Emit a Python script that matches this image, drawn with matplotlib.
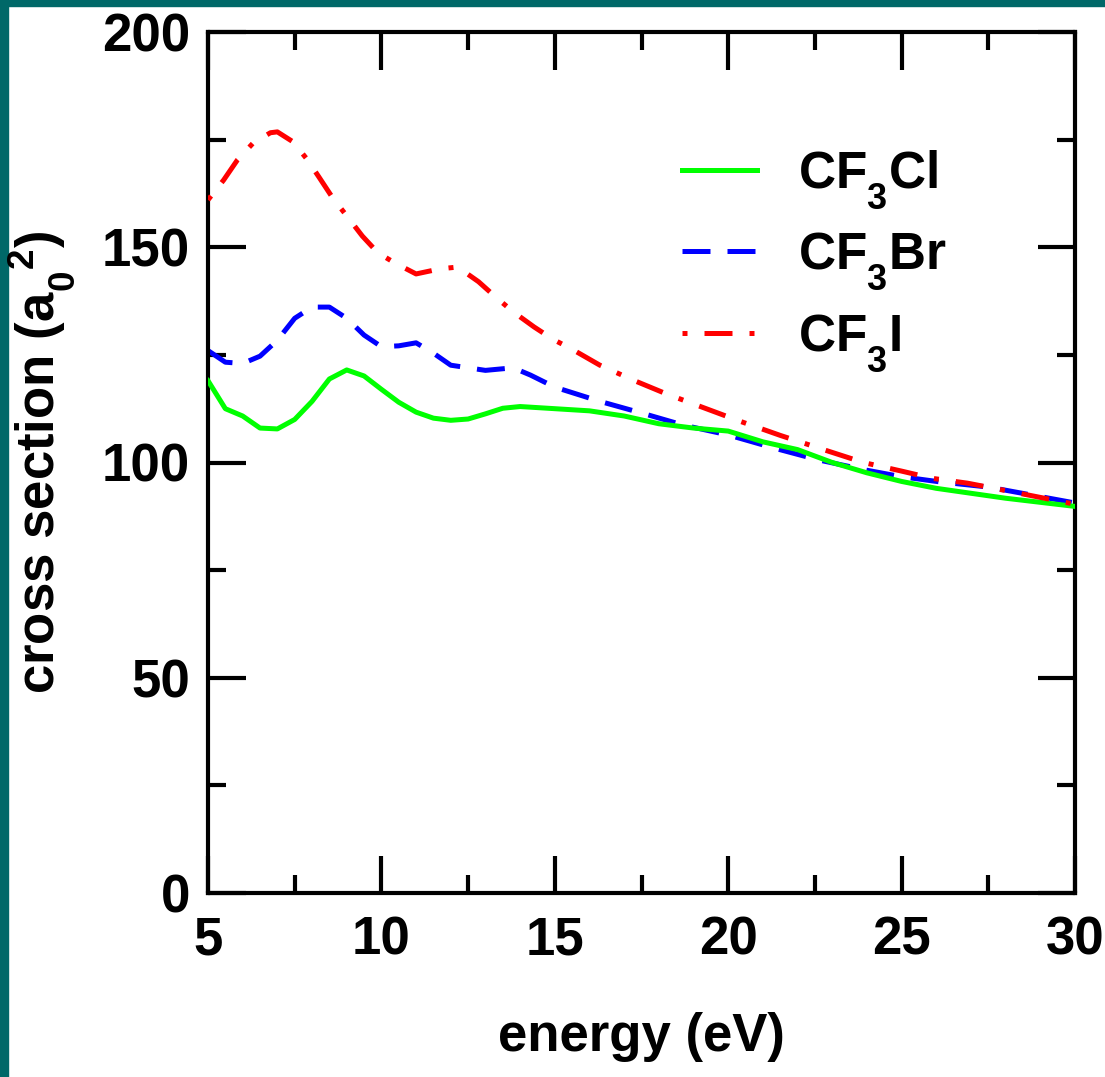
import matplotlib
matplotlib.use('Agg')
import matplotlib.pyplot as plt
from matplotlib.ticker import MultipleLocator

plt.rcParams['font.family'] = ['Liberation Sans', 'DejaVu Sans']
plt.rcParams['font.weight'] = 'bold'
plt.rcParams['axes.labelweight'] = 'bold'
plt.rcParams['mathtext.fontset'] = 'custom'
plt.rcParams['mathtext.rm'] = 'Liberation Sans:bold'
plt.rcParams['mathtext.bf'] = 'Liberation Sans:bold'
plt.rcParams['mathtext.it'] = 'Liberation Sans:bold'
plt.rcParams['mathtext.default'] = 'bf'

# push subscripts lower, like the original chart
try:
    import matplotlib._mathtext as _mt
    _mt.FontConstantsBase.sub1 = 0.75
    _mt.FontConstantsBase.sub2 = 0.9
except Exception:
    pass

# data
e_cl = [5.0, 5.5, 6.0, 6.5, 7.0, 7.5, 8.0, 8.5, 9.0, 9.5, 10.0, 10.5, 11.0, 11.5,
        12.0, 12.5, 13.0, 13.5, 14.0, 15.0, 16.0, 17.0, 18.0, 19.0, 20.0, 21.0,
        22.0, 23.0, 24.0, 25.0, 26.0, 28.0, 30.0]
cs_cl = [119.0, 112.5, 110.8, 108.0, 107.8, 110.0, 114.2, 119.4, 121.5, 120.1, 117.0,
         114.0, 111.7, 110.3, 109.8, 110.1, 111.3, 112.6, 113.0, 112.5, 112.0, 110.8,
         109.0, 108.0, 107.3, 104.8, 103.0, 100.0, 97.6, 95.6, 94.0, 91.7, 89.8]

e_br = [5.0, 5.5, 6.0, 6.5, 7.0, 7.5, 8.0, 8.5, 9.0, 9.5, 10.0, 10.5, 11.0, 11.5,
        12.0, 12.5, 13.0, 13.8, 14.3, 15.0, 16.3, 17.5, 18.7, 20.0, 21.3, 22.6,
        24.0, 25.0, 26.1, 27.5, 30.0]
cs_br = [126.0, 123.3, 123.0, 124.7, 128.4, 133.5, 136.1, 136.1, 133.5, 129.6, 126.9,
         127.1, 127.8, 125.4, 122.6, 122.0, 121.4, 122.0, 120.3, 117.5, 114.2, 111.5,
         108.7, 106.4, 103.4, 100.6, 98.2, 96.7, 95.5, 94.3, 90.6]

e_i = [5.0, 5.45, 5.85, 6.3, 6.8, 7.0, 7.45, 7.85, 8.2, 8.6, 9.0, 9.45, 9.9, 10.4,
       11.0, 11.7, 12.2, 12.8, 13.3, 13.8, 14.4, 14.95, 15.5, 16.3, 17.3, 18.2,
       19.2, 20.3, 21.5, 22.9, 23.9, 25.0, 25.9, 26.9, 27.8, 30.0]
cs_i = [161.0, 165.6, 170.3, 174.2, 176.6, 176.8, 174.5, 170.5, 166.3, 161.4, 157.3,
        152.6, 148.7, 146.3, 143.8, 145.0, 145.4, 142.0, 138.4, 135.0, 131.5, 128.6,
        126.3, 122.6, 119.0, 116.0, 113.0, 109.7, 106.3, 102.6, 100.0, 98.0, 96.3,
        95.2, 93.8, 90.3]

fig = plt.figure(figsize=(11.05, 10.77), dpi=100)
fig.patch.set_facecolor('white')
# teal frame strips on left and top
fig.patches.append(plt.Rectangle((0, 0), 8 / 1105, 1, transform=fig.transFigure,
                                 color='#006868', zorder=-1))
fig.patches.append(plt.Rectangle((0, 1 - 6 / 1077), 1, 6 / 1077, transform=fig.transFigure,
                                 color='#006868', zorder=-1))

ax = fig.add_axes([208 / 1105, 1 - 893 / 1077, 867 / 1105, 861 / 1077])

lw = 3.6
ax.plot(e_br, cs_br, color='#0000ff', lw=lw, dashes=(5.6, 3.4), label=r'CF$_3$Br', zorder=2)
ax.plot(e_cl, cs_cl, color='#00ff00', lw=lw, label=r'CF$_3$Cl', zorder=3)
ax.plot(e_i, cs_i, color='#ff0000', lw=lw, dashes=(1.0, 3.4, 5.6, 3.4), label=r'CF$_3$I', zorder=4)

ax.set_xlim(5, 30)
ax.set_ylim(0, 200)
ax.xaxis.set_major_locator(MultipleLocator(5))
ax.xaxis.set_minor_locator(MultipleLocator(2.5))
ax.yaxis.set_major_locator(MultipleLocator(50))
ax.yaxis.set_minor_locator(MultipleLocator(25))
ax.tick_params(which='both', direction='in', top=True, right=True, width=3, labelsize=38)
ax.tick_params(which='major', length=27)
ax.tick_params(which='minor', length=13)
ax.tick_params(axis='x', pad=16)
ax.tick_params(axis='y', pad=13)
for s in ax.spines.values():
    s.set_linewidth(3)

ax.set_xlabel('energy (eV)', fontsize=38, labelpad=34)
ax.set_ylabel(r'cross section (a$_0$$^2$)', fontsize=38, labelpad=18)

handles, labels = ax.get_legend_handles_labels()
order = [1, 0, 2]
ax.legend([handles[i] for i in order], [labels[i] for i in order],
          loc='upper left', bbox_to_anchor=(0.547, 0.865), frameon=False,
          fontsize=37, handlelength=1.46, handletextpad=0.8, labelspacing=0.4,
          borderpad=0, borderaxespad=0)

fig.savefig('out.png', dpi=100)
